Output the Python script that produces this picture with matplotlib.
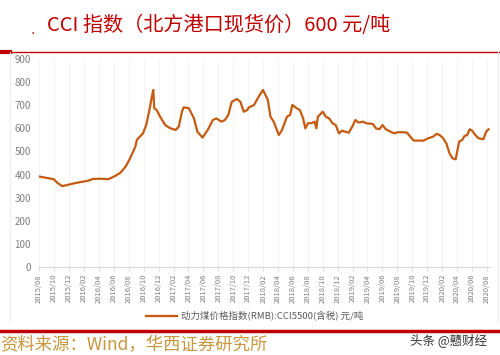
import matplotlib
matplotlib.use("Agg")
import matplotlib.pyplot as plt
import matplotlib.dates as mdates
from matplotlib.lines import Line2D
import pandas as pd

plt.rcParams['font.family'] = ['Noto Sans CJK SC', 'DejaVu Sans']

# CCI5500 readings (date, yuan/ton)
dates = ["2015-08-05", "2015-09-09", "2015-09-30", "2015-10-14", "2015-11-04", "2015-11-25",
         "2015-12-22", "2016-01-20", "2016-02-17", "2016-03-08", "2016-04-05", "2016-05-10",
         "2016-06-07", "2016-06-28", "2016-07-19", "2016-08-03", "2016-08-16", "2016-08-28",
         "2016-09-03", "2016-09-28", "2016-10-11", "2016-10-23", "2016-11-02", "2016-11-09",
         "2016-11-13", "2016-11-23", "2016-12-07", "2016-12-28", "2017-01-18", "2017-02-08",
         "2017-02-21", "2017-03-06", "2017-03-13", "2017-04-03", "2017-04-24", "2017-05-08",
         "2017-05-29", "2017-06-19", "2017-07-10", "2017-07-24", "2017-08-14", "2017-08-28",
         "2017-09-11", "2017-09-25", "2017-10-16", "2017-10-30", "2017-11-13", "2017-11-27",
         "2017-12-04", "2017-12-25", "2018-01-09", "2018-01-30", "2018-02-06", "2018-02-19",
         "2018-03-02", "2018-03-15", "2018-04-05", "2018-04-18", "2018-05-08", "2018-05-21",
         "2018-05-30", "2018-06-17", "2018-06-30", "2018-07-13", "2018-07-22", "2018-08-02",
         "2018-08-16", "2018-08-29", "2018-09-05", "2018-09-11", "2018-10-01", "2018-10-14",
         "2018-10-27", "2018-11-10", "2018-11-23", "2018-12-06", "2018-12-19", "2019-01-02",
         "2019-01-15", "2019-01-29", "2019-02-11", "2019-02-24", "2019-03-14", "2019-03-27",
         "2019-04-23", "2019-05-06", "2019-05-20", "2019-06-02", "2019-06-15", "2019-07-05",
         "2019-07-19", "2019-08-01", "2019-08-28", "2019-09-10", "2019-09-23", "2019-10-07",
         "2019-11-16", "2019-12-05", "2019-12-25", "2020-01-08", "2020-01-21", "2020-02-04",
         "2020-02-17", "2020-03-01", "2020-03-13", "2020-03-26", "2020-04-09", "2020-04-22",
         "2020-05-01", "2020-05-12", "2020-05-22", "2020-06-01", "2020-06-14", "2020-06-27",
         "2020-07-17", "2020-07-28", "2020-08-07"]
cci = [391, 384, 380, 365, 350, 355,
       362, 368, 373, 381, 382, 380,
       394, 408, 434, 463, 492, 521,
       550, 578, 614, 672, 730, 766,
       687, 679, 650, 614, 600, 593,
       607, 672, 691, 687, 643, 585,
       560, 593, 636, 643, 629, 636,
       658, 715, 727, 715, 672, 679,
       691, 701, 730, 766, 752, 723,
       650, 629, 571, 593, 650, 658,
       701, 687, 679, 643, 600, 622,
       622, 629, 600, 650, 672, 650,
       643, 622, 614, 578, 590, 585,
       581, 607, 636, 625, 629, 622,
       619, 600, 596, 614, 596, 585,
       578, 583, 583, 581, 564, 547,
       547, 557, 564, 576, 571, 557,
       535, 492, 470, 466, 542, 550,
       567, 571, 596, 590, 571, 557,
       553, 585, 596]

title = "CCI 指数（北方港口现货价）600 元/吨"
legend_label = "动力煤价格指数(RMB):CCI5500(含税) 元/吨"
source = "资料来源：Wind，华西证券研究所"
watermark = "头条 @戆财经"

line_color = "#C55A11"
red = "#C00000"

x = pd.to_datetime(dates)

fig = plt.figure(figsize=(5, 3.55), dpi=100)

# frame lines of the report page
fig.add_artist(Line2D([0.0, 1.0], [1 - 52 / 355, 1 - 52 / 355], color=red, lw=1.0))
fig.add_artist(Line2D([0.0, 0.02], [1 - 52 / 355, 1 - 52 / 355], color=red, lw=3.0))
fig.add_artist(Line2D([0.0, 1.0], [1 - 331 / 355, 1 - 331 / 355], color=red, lw=2.5))
fig.add_artist(Line2D([0.02, 0.02], [1 - 52 / 355, 1 - 322 / 355], color="#EEEEEE", lw=0.8))
fig.add_artist(Line2D([0.996, 0.996], [1 - 52 / 355, 1 - 322 / 355], color="#EEEEEE", lw=0.8))

fig.text(0.058, 1 - 33 / 355, "·", color=red, fontsize=6, va="center")
fig.text(0.094, 1 - 25 / 355, title, color=red, fontsize=14.5, va="center")

ax = fig.add_axes([38 / 500, 1 - 267 / 355, 452 / 500, 208 / 355])
ax.plot(x, cci, color=line_color, lw=1.6)

ax.set_ylim(0, 900)
ax.set_yticks(range(0, 901, 100))
ax.set_xlim(pd.Timestamp("2015-07-28"), pd.Timestamp("2020-08-13"))
ax.xaxis.set_major_locator(mdates.MonthLocator(bymonth=[2, 4, 6, 8, 10, 12]))
ax.xaxis.set_major_formatter(mdates.DateFormatter("%Y/%m"))
ax.tick_params(axis="x", labelrotation=90, labelsize=5.5, colors="#7F7F7F",
               length=3, width=0.6, color="#D9D9D9", pad=2)
ax.tick_params(axis="y", labelsize=7, colors="#7F7F7F", length=0, pad=5)
ax.grid(axis="x", color="#F2F2F2", lw=0.6)
for s in ["left", "top", "right"]:
    ax.spines[s].set_visible(False)
ax.spines["bottom"].set_color("#D9D9D9")
ax.spines["bottom"].set_linewidth(0.8)

handle = Line2D([], [], color=line_color, lw=1.6)
fig.legend([handle], [legend_label], loc="center", bbox_to_anchor=(0.51, 1 - 316 / 355),
           frameon=False, fontsize=6.8, labelcolor="#595959", handlelength=3.2,
           handletextpad=0.5)

fig.text(0.0, 1 - 345 / 355, source, color="#C8963C", fontsize=12.5, va="center")
fig.text(0.82, 1 - 340 / 355, watermark, color="#333333", fontsize=9, va="center")

fig.savefig("out.png", dpi=100)
